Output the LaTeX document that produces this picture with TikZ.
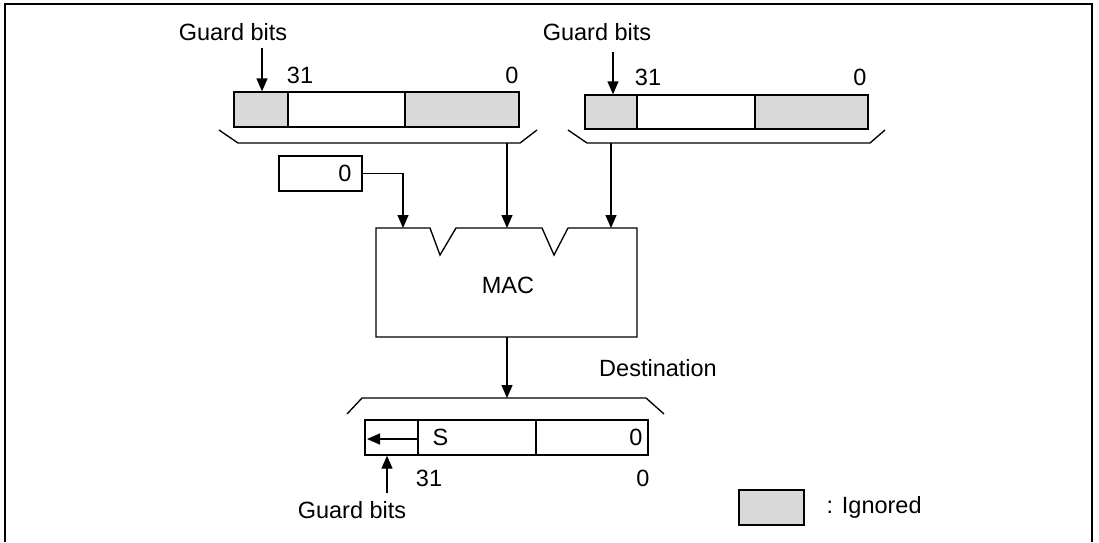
\documentclass[tikz,border=0pt]{standalone}
\usepackage{fontspec}
\setmainfont{Liberation Sans}
\usetikzlibrary{arrows.meta}
\begin{document}
\begin{tikzpicture}[x=1pt,y=-1pt,
  line width=1.35pt,
  font=\fontsize{23.5}{27}\selectfont,
  cell/.style={draw, rectangle, inner sep=0pt, minimum height=35pt},
  ign/.style={cell, fill=ignfill},
  lbl/.style={inner sep=0pt},
  arr/.style={-{Triangle[length=13pt,width=11pt]}},
]
\definecolor{ignfill}{HTML}{D9D9D9}
\useasboundingbox (0,0) rectangle (1099,542);
% frame
\draw (5,542) -- (5,4) -- (1092,4) -- (1092,542);

% register 1
\node[ign, minimum width=54pt] (g1) at (261,109.5) {};
\node[cell, minimum width=117pt] (m1) at (346.5,109.5) {};
\node[ign, minimum width=114pt] (l1) at (462,109.5) {};
\draw (219,130) -- (238,143) -- (520,143) -- (537,130);
\coordinate (b1) at (507,143);
\node[lbl] (gb1) at (233,32) {Guard bits};
\coordinate (gb1a) at (262,48);
\draw[arr] (gb1a) -- (g1.north -| gb1a);
\node[lbl] (t31a) at (300,75) {31};
\node[lbl] (t0a) at (512,75) {0};

% register 2
\node[ign, minimum width=52pt, minimum height=34pt] (g2) at (611,112) {};
\node[cell, minimum width=118pt, minimum height=34pt] (m2) at (696,112) {};
\node[ign, minimum width=113pt, minimum height=34pt] (l2) at (811.5,112) {};
\draw (568,130) -- (587,143) -- (870,143) -- (885,130);
\coordinate (b2) at (611,143);
\node[lbl] (gb2) at (597,32) {Guard bits};
\coordinate (gb2a) at (613,52);
\draw[arr] (gb2a) -- (g2.north -| gb2a);
\node[lbl] (t31b) at (648,77) {31};
\node[lbl] (t0b) at (860,77) {0};

% zero box
\node[cell, minimum width=83pt] (z) at (320.5,173.5) {};
\node[lbl, anchor=east] (zt) at (352,173.5) {0};

% MAC
\draw (376,228) -- (430,228) -- (440,255) -- (456,228) -- (542,228) -- (554,255) -- (568,228)
  -- (637,228) -- (637,337) -- (376,337) -- cycle;
\node[lbl] (mac) at (508,285) {MAC};
\coordinate (in1) at (403,228);
\coordinate (in2) at (507,228);
\coordinate (in3) at (611,228);
\coordinate (out) at (507,337);
\draw[arr] (z.east) -| (in1);
\draw[arr] (b1) -- (in2);
\draw[arr] (b2) -- (in3);

% destination
\node[lbl] (dest) at (658,368) {Destination};
\draw (347,414) -- (362,398) -- (646,398) -- (664,414);
\coordinate (b3) at (507,398);
\draw[arr] (out) -- (b3);
\node[cell, minimum width=53pt] (g3) at (391.5,437.5) {};
\node[cell, minimum width=118pt] (m3) at (477,437.5) {};
\node[cell, minimum width=112pt] (l3) at (592,437.5) {};
\coordinate (ga) at (418,439);
\coordinate (gb) at (367,439);
\draw[arr] (ga) -- (gb);
\node[lbl, anchor=west] (st) at (432,437.5) {S};
\node[lbl, anchor=east] (z3) at (643,437.5) {0};
\node[lbl] (t31c) at (429,478) {31};
\node[lbl] (t0c) at (643,478) {0};
\coordinate (gb3a) at (387,493);
\draw[arr] (gb3a) -- (g3.south -| gb3a);
\node[lbl] (gb3) at (352,510) {Guard bits};

% legend
\node[ign, minimum width=65pt] (leg) at (771.5,507.5) {};
\node[lbl, anchor=west] (legt) at (826,507.5) {: Ignored};
\end{tikzpicture}
\end{document}
